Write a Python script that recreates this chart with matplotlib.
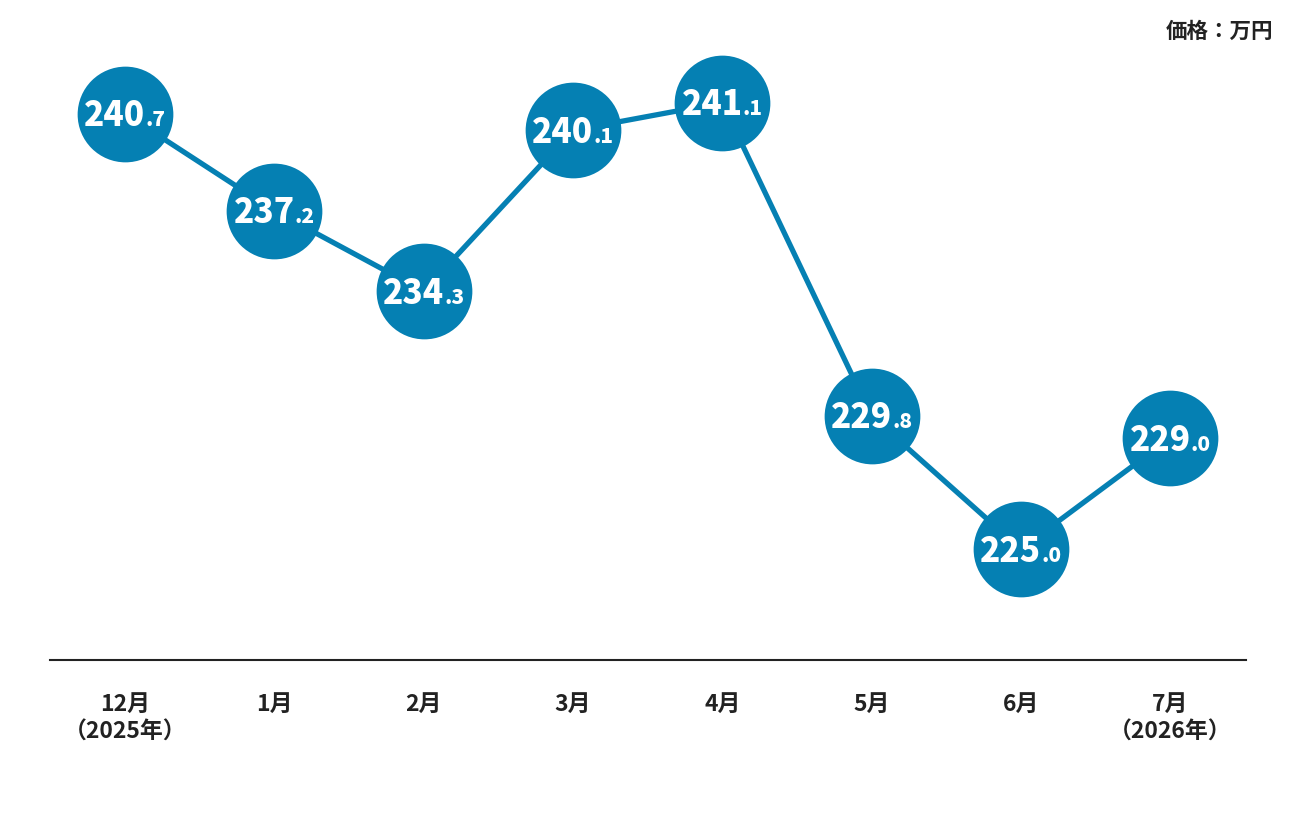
import matplotlib
matplotlib.use('Agg')
import matplotlib.pyplot as plt

plt.rcParams['font.family'] = ['Noto Sans CJK JP', 'DejaVu Sans']

months = ['12月\n（2025年）', '1月', '2月', '3月', '4月', '5月', '6月', '7月\n（2026年）']
prices = [240.7, 237.2, 234.3, 240.1, 241.1, 229.8, 225.0, 229.0]
unit_label = '価格：万円'

blue = '#0580b3'

fig = plt.figure(figsize=(12.96, 8.16), dpi=100)
ax = fig.add_axes([50/1296, 156/816, 1196/1296, 660/816])

x = list(range(len(prices)))
ax.plot(x, prices, color=blue, lw=3.8, zorder=2, solid_capstyle='round')
ax.scatter(x, prices, s=4750, color=blue, zorder=3, linewidths=0)

ax.set_xlim(-0.502, 7.508)
ax.set_ylim(221.0, 244.8)

for s in ['top', 'right', 'left']:
    ax.spines[s].set_visible(False)
ax.spines['bottom'].set_color('#222222')
ax.spines['bottom'].set_linewidth(1.5)
ax.set_yticks([])
ax.set_xticks(x)
ax.set_xticklabels(months, fontsize=16.5, fontweight='bold', color='#222222',
                   linespacing=1.25, va='top')
ax.tick_params(axis='x', length=0, pad=24)

# value labels: large integer part + small decimal part, centred in the circle
fig.canvas.draw()
renderer = fig.canvas.get_renderer()
for xi, v in zip(x, prices):
    ip, dp = f'{v:.1f}'.split('.')
    t1 = ax.annotate(ip, (xi, v), xytext=(0, -9), textcoords='offset points',
                     ha='left', va='baseline', fontsize=24, fontweight='black',
                     color='white', zorder=4)
    t2 = ax.annotate('.' + dp, (xi, v), xytext=(0, -9), textcoords='offset points',
                     ha='left', va='baseline', fontsize=15, fontweight='black',
                     color='white', zorder=4)
    w1 = t1.get_window_extent(renderer).width * 72 / fig.dpi
    w2 = t2.get_window_extent(renderer).width * 72 / fig.dpi
    start = -(w1 + w2) / 2
    t1.set_position((start, -9))
    t2.set_position((start + w1, -9))

fig.text(1273/1296, 1 - 31/816, unit_label, ha='right', va='center',
         fontsize=15.5, fontweight='bold', color='#222222')

fig.savefig('out.png', dpi=100)
